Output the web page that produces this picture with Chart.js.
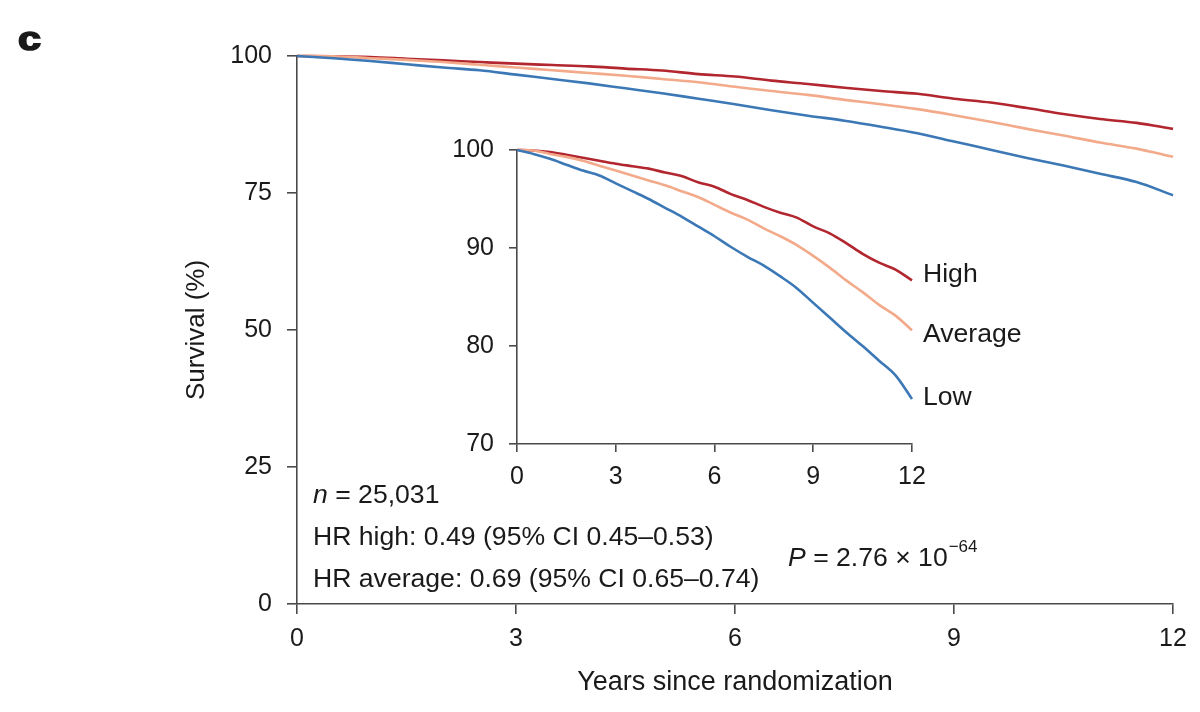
<!DOCTYPE html>
<html><head><meta charset="utf-8">
<script src="https://cdn.jsdelivr.net/npm/chart.js@4.4.1/dist/chart.umd.min.js"></script>
<style>
html,body{margin:0;padding:0;background:#fff;}
#wrap{position:relative;width:1200px;height:712px;overflow:hidden;background:#fff}
#main{position:absolute;left:0;top:0}
#inset{position:absolute;left:420px;top:120px}
</style></head><body>
<div id="wrap"><canvas id="main" width="1200" height="712"></canvas><canvas id="inset" width="640" height="390"></canvas></div>
<script>
// ---- data ----
const years   = [0,0.5,1,1.5,2,2.5,3,3.5,4,4.5,5,5.5,6,6.5,7,7.5,8,8.5,9,9.5,10,10.5,11,11.5,12];
const high    = [100,99.95,99.8,99.5,99.2,98.9,98.6,98.35,98.1,97.7,97.35,96.7,96.25,95.5,94.9,94.2,93.6,93.1,92.2,91.5,90.5,89.4,88.5,87.8,86.7];
const average = [100,99.95,99.6,99.3,98.9,98.4,97.9,97.4,96.9,96.4,95.8,95.2,94.4,93.6,92.9,92.0,91.2,90.3,89.2,88.0,86.7,85.5,84.2,83.1,81.6];
const low     = [100,99.6,99.1,98.5,97.9,97.4,96.6,95.8,95.0,94.1,93.2,92.2,91.2,90.1,89.1,88.2,87.1,85.9,84.4,82.9,81.4,80.0,78.5,77.0,74.6];
const seriesNames  = ['Low','Average','High'];
const seriesColors = ['#3b78b5','#f2aa8a','#b2262f'];
const xTicks      = [0,3,6,9,12];
const mainYTicks  = [0,25,50,75,100];
const insetYTicks = [70,80,90,100];
const xTitle = 'Years since randomization';
const yTitle = 'Survival (%)';
const statLines = ['n = 25,031','HR high: 0.49 (95% CI 0.45\u20130.53)','HR average: 0.69 (95% CI 0.65\u20130.74)'];
const pText = ['P',' = 2.76 \u00d7 10','\u221264'];

const FAM = '"Liberation Sans", Arial, Helvetica, sans-serif';
const INK = '#1a1a1a';
const AX = '#4a4a4a';

function makeDatasets(){
  const vals = [low, average, high];
  return vals.map((v,i)=>({
    label: seriesNames[i],
    data: years.map((x,j)=>({x:x, y:v[j]})),
    borderColor: seriesColors[i],
    backgroundColor: seriesColors[i],
    borderWidth: 2.6,
    pointRadius: 0,
    tension: 0,
    cubicInterpolationMode: 'monotone',
    clip: 6
  }));
}

function axisCommon(tickArr, tickLen, tickPad, min, max, fitFn){
  return {
    type:'linear', min:min, max:max,
    afterBuildTicks: s => { s.ticks = tickArr.map(v=>({value:v})); },
    afterFit: fitFn,
    border:{display:true,color:AX,width:1.6},
    grid:{display:true,drawOnChartArea:false,drawTicks:true,tickLength:tickLen,color:AX,lineWidth:1.6},
    ticks:{color:INK,font:{family:FAM,size:25},padding:tickPad,maxRotation:0,autoSkip:false}
  };
}

const mainText = {
  id:'mainText',
  afterDraw(chart){
    const ctx = chart.ctx, a = chart.chartArea;
    ctx.save();
    ctx.fillStyle = INK; ctx.textAlign='left'; ctx.textBaseline='alphabetic';
    ctx.save();
    ctx.translate(18, 50); ctx.scale(1.25, 1);
    ctx.font = 'bold 33px ' + FAM;
    ctx.lineWidth = 1.6; ctx.strokeStyle = INK;
    ctx.fillText('c', 0, 0); ctx.strokeText('c', 0, 0);
    ctx.restore();
    const f = '26.6px ' + FAM;
    const x0 = a.left + 16;
    // n = ...
    ctx.font = 'italic ' + f;
    ctx.fillText(statLines[0].charAt(0), x0, 503);
    const wn = ctx.measureText(statLines[0].charAt(0)).width;
    ctx.font = f;
    ctx.fillText(statLines[0].slice(1), x0 + wn, 503);
    ctx.fillText(statLines[1], x0, 545);
    ctx.fillText(statLines[2], x0, 587);
    // P value
    const px = a.left + 491, py = 566;
    ctx.font = 'italic ' + f;
    ctx.fillText(pText[0], px, py);
    let w = ctx.measureText(pText[0]).width;
    ctx.font = f;
    ctx.fillText(pText[1], px + w, py);
    w += ctx.measureText(pText[1]).width;
    ctx.font = '17px ' + FAM;
    ctx.fillText(pText[2], px + w + 1, py - 14);
    ctx.restore();
  }
};

const insetText = {
  id:'insetText',
  afterDraw(chart){
    const ctx = chart.ctx;
    const xs = chart.scales.x, ys = chart.scales.y;
    const offs = [-1, 4, -6];
    ctx.save();
    ctx.fillStyle = INK; ctx.textAlign='left'; ctx.textBaseline='middle';
    ctx.font = '26.6px ' + FAM;
    chart.data.datasets.forEach((ds,i)=>{
      const last = ds.data[ds.data.length-1];
      ctx.fillText(ds.label, xs.getPixelForValue(last.x) + 11, ys.getPixelForValue(last.y) + offs[i]);
    });
    ctx.restore();
  }
};

new Chart(document.getElementById('main'), {
  type:'line',
  data:{datasets: makeDatasets()},
  options:{
    responsive:false, animation:false, devicePixelRatio:1,
    layout:{padding:{left:181, top:56, right:27, bottom:0}},
    plugins:{legend:{display:false}, tooltip:{enabled:false}},
    scales:{
      x: Object.assign(axisCommon(xTicks,10,10,0,12, s=>{s.height=108;}), {
        title:{display:true,text:xTitle,color:INK,font:{family:FAM,size:27},padding:{top:0,bottom:13}}
      }),
      y: Object.assign(axisCommon(mainYTicks,10,15,0,100, s=>{s.width=116;}), {
        title:{display:true,text:yTitle,color:INK,font:{family:FAM,size:26},padding:{top:0,bottom:0}}
      })
    }
  },
  plugins:[mainText]
});

new Chart(document.getElementById('inset'), {
  type:'line',
  data:{datasets: makeDatasets()},
  options:{
    responsive:false, animation:false, devicePixelRatio:1,
    layout:{padding:{left:0, top:27, right:148, bottom:0}},
    plugins:{legend:{display:false}, tooltip:{enabled:false}},
    scales:{
      x: axisCommon(xTicks,8,10,0,12, s=>{s.height=66;}),
      y: axisCommon(insetYTicks,8,15,70,100, s=>{s.width=97;})
    }
  },
  plugins:[insetText]
});
</script>
</body></html>
